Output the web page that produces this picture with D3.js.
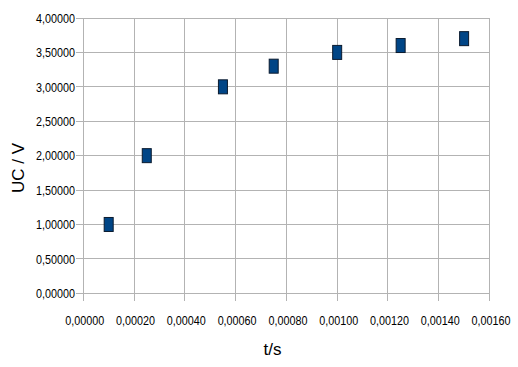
<!DOCTYPE html>
<html><head><meta charset="utf-8">
<script src="https://cdn.jsdelivr.net/npm/d3@7/dist/d3.min.js"></script>
<style>body{margin:0;background:#fff}svg{display:block}</style>
</head><body>
<script>
const tValues = [0.0001, 0.00025, 0.00055, 0.00075, 0.001, 0.00125, 0.0015];
const ucValues = [1.0, 2.0, 3.0, 3.3, 3.5, 3.6, 3.7];
const xTicks = [0, 0.0002, 0.0004, 0.0006, 0.0008, 0.001, 0.0012, 0.0014, 0.0016];
const yTicks = [0, 0.5, 1, 1.5, 2, 2.5, 3, 3.5, 4];
const xTitle = "t/s";
const yTitle = "UC / V";

const W = 518, H = 367;
const m = {left: 83.3, top: 18, right: 489.5, bottom: 293.3};
const svg = d3.select("body").append("svg").attr("width", W).attr("height", H);
const x = d3.scaleLinear().domain([0, 0.0016]).range([m.left, m.right]);
const y = d3.scaleLinear().domain([0, 4]).range([m.bottom, m.top]);
const fmt = v => d3.format(".5f")(v).replace(".", ",");
const grid = "#b3b3b3";

// grid
svg.append("g").selectAll("line").data(xTicks).join("line")
  .attr("x1", d => x(d)).attr("x2", d => x(d)).attr("y1", m.top).attr("y2", m.bottom + 8)
  .attr("stroke", grid).attr("stroke-width", 1).attr("shape-rendering", "crispEdges");
svg.append("g").selectAll("line").data(yTicks).join("line")
  .attr("x1", m.left - 7).attr("x2", m.right).attr("y1", d => y(d)).attr("y2", d => y(d))
  .attr("stroke", grid).attr("stroke-width", 1).attr("shape-rendering", "crispEdges");

// tick labels
svg.append("g").selectAll("text").data(yTicks).join("text")
  .attr("x", 75).attr("y", d => y(d) + 4.8).attr("text-anchor", "end")
  .attr("font-family", "Liberation Sans, Arial, sans-serif").attr("font-size", 13.5)
  .attr("textLength", 39).attr("lengthAdjust", "spacingAndGlyphs")
  .attr("fill", "#000").text(fmt);
svg.append("g").selectAll("text").data(xTicks).join("text")
  .attr("x", d => x(d) + 1.5).attr("y", 325).attr("text-anchor", "middle")
  .attr("font-family", "Liberation Sans, Arial, sans-serif").attr("font-size", 13.5)
  .attr("textLength", 39).attr("lengthAdjust", "spacingAndGlyphs")
  .attr("fill", "#000").text(fmt);

// markers
const mw = 9, mh = 14;
svg.append("g").selectAll("rect").data(tValues.map((t, i) => [t, ucValues[i]])).join("rect")
  .attr("x", d => x(d[0]) - mw / 2).attr("y", d => y(d[1]) - mh / 2)
  .attr("width", mw).attr("height", mh)
  .attr("fill", "#004586").attr("stroke", "#0a1a2e").attr("stroke-width", 1);

// titles
svg.append("text").attr("x", 272.5).attr("y", 355).attr("text-anchor", "middle")
  .attr("font-family", "Liberation Sans, Arial, sans-serif").attr("font-size", 17)
  .attr("fill", "#000").text(xTitle);
svg.append("text").attr("transform", "translate(24,168) rotate(-90)").attr("text-anchor", "middle")
  .attr("font-family", "Liberation Sans, Arial, sans-serif").attr("font-size", 17)
  .attr("fill", "#000").text(yTitle);
</script>
</body></html>
